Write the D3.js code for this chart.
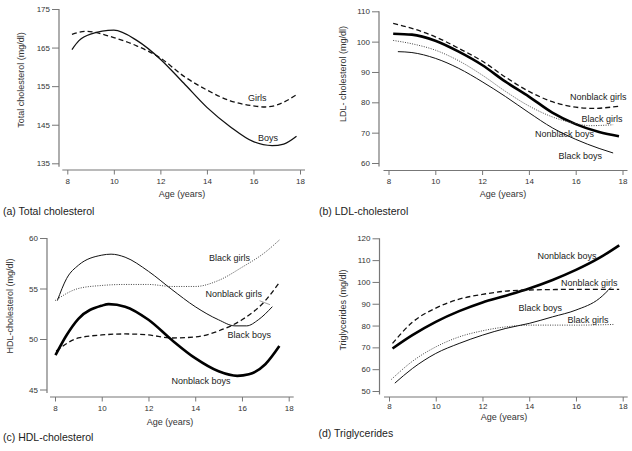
<!DOCTYPE html>
<html><head><meta charset="utf-8">
<script src="https://cdn.jsdelivr.net/npm/d3@7"></script>
<style>
html,body{margin:0;padding:0;background:#fff;}
svg{display:block;font-family:"Liberation Sans",Arial,Helvetica,sans-serif;}
</style></head>
<body>
<svg id="chart" width="632" height="451"></svg>
<script>
// ---------- DATA ----------
const xTicks = [8, 10, 12, 14, 16, 18];

// (a) Total cholesterol
const aTicks = [135, 145, 155, 165, 175];
const aBoysAge = [8.2, 8.5, 9, 10, 11, 12, 13, 14, 15, 16, 16.8, 17.3, 17.85];
const aBoysVal = [164.5, 166.8, 168.5, 169.5, 166.8, 162.0, 155.8, 149.5, 144.5, 140.6, 139.6, 140.0, 142.0];
const aGirlsAge = [8.2, 8.8, 10, 11, 12, 13, 14, 15, 16, 16.5, 17, 17.85];
const aGirlsVal = [168.4, 169.2, 167.6, 165.4, 162.3, 157.6, 154.0, 151.2, 149.9, 149.6, 150.1, 152.8];

// (b) LDL-cholesterol
const bTicks = [60, 70, 80, 90, 100, 110];
const bNbGirlsAge = [8.2, 9, 10, 11, 12, 13, 14, 15, 16, 16.7, 17.85];
const bNbGirlsVal = [106.0, 104.4, 101.6, 97.8, 93.6, 88.3, 83.6, 80.2, 78.4, 78.0, 78.7];
const bNbBoysAge = [8.2, 9, 10, 11, 12, 13, 14, 15, 16, 17, 17.85];
const bNbBoysVal = [102.6, 102.3, 100.3, 96.7, 92.3, 86.8, 81.9, 76.6, 72.8, 70.2, 68.8];
const bBGirlsAge = [8.2, 9, 10, 11, 12, 13, 14, 15, 16, 16.6, 17.6];
const bBGirlsVal = [100.4, 99.3, 97.2, 93.7, 89.0, 83.6, 78.8, 75.2, 73.0, 72.3, 72.6];
const bBBoysAge = [8.4, 9, 10, 11, 12, 13, 14, 15, 16, 17, 17.6];
const bBBoysVal = [96.7, 96.4, 94.5, 91.2, 86.8, 81.9, 76.6, 71.6, 67.8, 64.8, 63.3];

// (c) HDL-cholesterol
const cTicks = [45, 50, 55, 60];
const cBBoysAge = [8.1, 8.5, 9, 10, 10.4, 11, 12, 13, 14, 15, 15.7, 16.2, 16.7, 17.3];
const cBBoysVal = [53.8, 56.0, 57.3, 58.3, 58.4, 58.1, 56.7, 54.9, 53.2, 51.9, 51.3, 51.3, 51.9, 53.2];
const cBGirlsAge = [8.0, 9, 10, 11, 12, 13, 14, 15, 16, 17, 17.6];
const cBGirlsVal = [53.8, 55.0, 55.3, 55.4, 55.4, 55.2, 55.2, 55.8, 57.1, 58.6, 59.8];
const cNbGirlsAge = [8.05, 9, 10, 11, 12, 13, 14, 15, 16, 17, 17.6];
const cNbGirlsVal = [48.8, 50.1, 50.4, 50.5, 50.4, 50.1, 50.2, 50.8, 51.9, 53.8, 55.6];
const cNbBoysAge = [8.02, 8.5, 9, 10, 10.3, 11, 12, 13, 14, 15, 15.8, 16.3, 17, 17.6];
const cNbBoysVal = [48.4, 50.4, 52.0, 53.3, 53.45, 53.2, 51.9, 49.9, 48.1, 46.8, 46.35, 46.5, 47.5, 49.3];

// (d) Triglycerides
const dTicks = [50, 60, 70, 80, 90, 100, 110, 120];
const dNbBoysAge = [8.15, 9, 10, 11, 12, 13, 14, 15, 16, 17, 17.85];
const dNbBoysVal = [69.5, 75.6, 81.7, 86.6, 90.6, 93.7, 97.0, 100.9, 105.5, 111.0, 116.8];
const dNbGirlsAge = [8.15, 9, 10, 11, 12, 13, 14, 15, 16, 17.85];
const dNbGirlsVal = [71.8, 81.5, 88.0, 92.1, 94.3, 95.8, 96.3, 96.5, 96.6, 96.6];
const dBGirlsAge = [8.1, 9, 10, 11, 12, 13, 14, 15, 16, 17.6];
const dBGirlsVal = [55.3, 63.6, 70.2, 74.8, 77.6, 79.4, 80.2, 80.2, 80.2, 80.5];
const dBBoysAge = [8.25, 9, 10, 11, 12, 13, 14, 15, 16, 17, 17.5];
const dBBoysVal = [53.6, 60.3, 67.2, 71.8, 75.6, 78.7, 81.0, 84.0, 87.1, 92.4, 97.5];

// ---------- STYLES ----------
const STY = {
  thick:  {w: 2.6, dash: null, c: "#000"},
  thin:   {w: 1.0, dash: null, c: "#111"},
  medium: {w: 1.3, dash: null, c: "#111"},
  dashed: {w: 1.3, dash: "5,3", c: "#111"},
  dotted: {w: 1.0, dash: "1,1.4", c: "#444"}
};

const panels = [
  { yAxisX: 59, yTop: 9, yBot: 163.3, xAxisY: 170, x8: 67.3, x18: 300, ticks: aTicks, xpad: 3.5,
    ytitle: "Total cholesterol (mg/dl)", ytx: 21, yty: 80,
    xtx: 182, xty: 197, title: "(a) Total cholesterol", tx: 3, ty: 215,
    series: [
      {age: aBoysAge, val: aBoysVal, s: "medium", label: "Boys", lx: 258, ly: 141},
      {age: aGirlsAge, val: aGirlsVal, s: "dashed", label: "Girls", lx: 248, ly: 100.5}
    ]},
  { yAxisX: 379, yTop: 11.3, yBot: 163, xAxisY: 170.5, x8: 388.5, x18: 622.5, ticks: bTicks, xpad: 3.5,
    ytitle: "LDL- cholesterol (mg/dl)", ytx: 343, yty: 74,
    xtx: 503, xty: 197, title: "(b) LDL-cholesterol", tx: 319, ty: 215,
    series: [
      {age: bNbGirlsAge, val: bNbGirlsVal, s: "dashed", label: "Nonblack girls", lx: 570, ly: 100},
      {age: bNbBoysAge, val: bNbBoysVal, s: "thick", label: "Nonblack boys", lx: 535, ly: 137},
      {age: bBGirlsAge, val: bBGirlsVal, s: "dotted", label: "Black girls", lx: 581.5, ly: 121.5},
      {age: bBBoysAge, val: bBBoysVal, s: "thin", label: "Black boys", lx: 558.5, ly: 158.5}
    ]},
  { yAxisX: 47, yTop: 238, yBot: 389.5, xAxisY: 397, x8: 55, x18: 288.7, ticks: cTicks, xpad: 3.5,
    ytitle: "HDL-cholesterol (mg/dl)", ytx: 10, yty: 306,
    xtx: 170, xty: 424.5, title: "(c) HDL-cholesterol", tx: 3, ty: 441,
    series: [
      {age: cBBoysAge, val: cBBoysVal, s: "thin", label: "Black boys", lx: 227.5, ly: 338},
      {age: cBGirlsAge, val: cBGirlsVal, s: "dotted", label: "Black girls", lx: 209, ly: 261},
      {age: cNbGirlsAge, val: cNbGirlsVal, s: "dashed", label: "Nonblack girls", lx: 205.5, ly: 297,
       leader: [259.5, 300.7, 270, 304.7]},
      {age: cNbBoysAge, val: cNbBoysVal, s: "thick", label: "Nonblack boys", lx: 171.5, ly: 384}
    ]},
  { yAxisX: 379.5, yTop: 238.3, yBot: 391, xAxisY: 397, x8: 389, x18: 622.7, ticks: dTicks, xpad: 2,
    ytitle: "Triglycerides (mg/dl)", ytx: 343, yty: 310,
    xtx: 504, xty: 420, title: "(d) Triglycerides", tx: 318.5, ty: 436.5,
    series: [
      {age: dNbBoysAge, val: dNbBoysVal, s: "thick", label: "Nonblack boys", lx: 537.5, ly: 259},
      {age: dNbGirlsAge, val: dNbGirlsVal, s: "dashed", label: "Nonblack girls", lx: 561, ly: 285.5},
      {age: dBGirlsAge, val: dBGirlsVal, s: "dotted", label: "Black girls", lx: 567.5, ly: 323},
      {age: dBBoysAge, val: dBBoysVal, s: "thin", label: "Black boys", lx: 518.5, ly: 310.5}
    ]}
];

const svg = d3.select("#chart");
const AX = "#777", TXT = "#333";

panels.forEach(p => {
  const tmin = d3.min(p.ticks), tmax = d3.max(p.ticks);
  const x = d3.scaleLinear().domain([8, 18]).range([p.x8, p.x18]);
  const y = d3.scaleLinear().domain([tmin, tmax]).range([p.yBot, p.yTop]);
  const g = svg.append("g");

  // y axis
  const ya = g.append("g").attr("transform", `translate(${p.yAxisX},0)`)
    .call(d3.axisLeft(y).tickValues(p.ticks).tickSize(7).tickPadding(2).tickSizeOuter(0));
  ya.select(".domain").remove();
  ya.append("line").attr("x1", 0).attr("x2", 0).attr("y1", p.yTop).attr("y2", p.yBot + 3.5)
    .attr("stroke", AX).attr("stroke-width", 1.2);
  // x axis
  const xa = g.append("g").attr("transform", `translate(0,${p.xAxisY})`)
    .call(d3.axisBottom(x).tickValues(xTicks).tickSize(4.5).tickPadding(p.xpad).tickSizeOuter(0));
  xa.select(".domain").remove();
  xa.append("line").attr("x1", p.x8 - 5).attr("x2", p.x18 + 5).attr("y1", 0).attr("y2", 0)
    .attr("stroke", AX).attr("stroke-width", 1.2);
  [ya, xa].forEach(a => {
    a.selectAll(".tick line").attr("stroke", AX).attr("stroke-width", 1);
    a.selectAll(".tick text").attr("fill", TXT).style("font-size", "8px")
      .style("font-family", '"Liberation Sans",Arial,sans-serif');
  });

  // titles
  g.append("text").attr("transform", `translate(${p.ytx},${p.yty}) rotate(-90)`)
    .attr("text-anchor", "middle").attr("dy", "0.35em").attr("fill", TXT)
    .style("font-size", "9px").text(p.ytitle);
  g.append("text").attr("x", p.xtx).attr("y", p.xty).attr("text-anchor", "middle")
    .attr("fill", TXT).style("font-size", "9px").text("Age (years)");
  g.append("text").attr("x", p.tx).attr("y", p.ty).attr("fill", "#222")
    .style("font-size", "10.5px").text(p.title);

  // lines
  const line = d3.line().x(d => x(d[0])).y(d => y(d[1])).curve(d3.curveMonotoneX);
  p.series.forEach(s => {
    const st = STY[s.s];
    const pts = s.age.map((a, i) => [a, s.val[i]]);
    g.append("path").datum(pts).attr("d", line).attr("fill", "none")
      .attr("stroke", st.c).attr("stroke-width", st.w)
      .attr("stroke-dasharray", st.dash).attr("stroke-linecap", "butt");
    g.append("text").attr("x", s.lx).attr("y", s.ly).attr("fill", "#222")
      .style("font-size", "9px").text(s.label);
    if (s.leader) {
      g.append("line").attr("x1", s.leader[0]).attr("y1", s.leader[1])
        .attr("x2", s.leader[2]).attr("y2", s.leader[3])
        .attr("stroke", "#888").attr("stroke-width", 0.8);
    }
  });
});
</script>
</body></html>
